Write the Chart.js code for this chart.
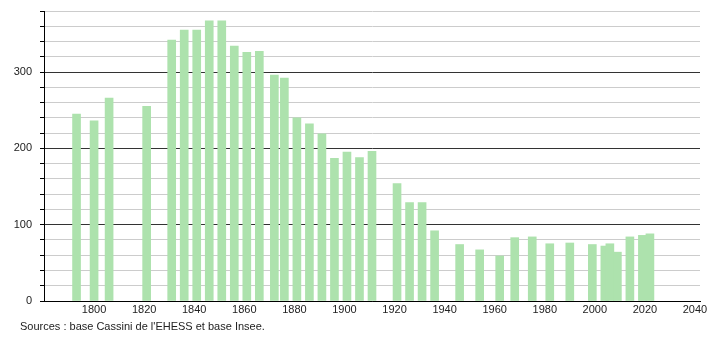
<!DOCTYPE html>
<html>
<head>
<meta charset="utf-8">
<script src="https://cdn.jsdelivr.net/npm/chart.js@4"></script>
<style>
  body { margin: 0; background: #fff; }
  #wrap { position: relative; width: 710px; height: 340px; }
  #source { position: absolute; left: 20px; top: 320px; font: 11px "Liberation Sans", Arial, sans-serif; color: #222; }
</style>
</head>
<body>
<div id="wrap">
  <canvas id="chart" width="710" height="340"></canvas>
  <div id="source">Sources : base Cassini de l'EHESS et base Insee.</div>
</div>
<script>
const years = [1793, 1800, 1806, 1821, 1831, 1836, 1841, 1846, 1851, 1856,
  1861, 1866, 1872, 1876, 1881, 1886, 1891, 1896, 1901, 1906, 1911,
  1921, 1926, 1931, 1936, 1946, 1954, 1962, 1968, 1975, 1982, 1990,
  1999, 2004, 2006, 2009, 2014, 2019, 2022];
const population = [245, 236, 266, 255, 342, 355, 355, 367, 367, 334,
  326, 327, 296, 292, 240, 232, 219, 187, 195, 188, 196,
  154, 129, 129, 92, 74, 67, 59, 83, 84, 75, 76,
  74, 72, 75, 64, 84, 86, 88];
const xTicks = [1800, 1820, 1840, 1860, 1880, 1900, 1920, 1940, 1960, 1980, 2000, 2020, 2040];
const yTicks = [0, 20, 40, 60, 80, 100, 120, 140, 160, 180, 200, 220, 240, 260, 280, 300, 320, 340, 360, 380];
const yLabels = [0, 100, 200, 300];

const font = { family: "'Liberation Sans', Arial, sans-serif", size: 11 };

new Chart(document.getElementById("chart"), {
  type: "bar",
  data: {
    datasets: [{
      data: years.map((y, i) => ({ x: y, y: population[i] })),
      backgroundColor: "#ade2ad",
      barThickness: 8
    }]
  },
  options: {
    responsive: false,
    animation: false,
    layout: { padding: { left: 0, right: 10, top: 11, bottom: 21 } },
    plugins: { legend: { display: false }, tooltip: { enabled: false } },
    scales: {
      x: {
        type: "linear",
        offset: false,
        min: 1780,
        max: 2042,
        afterBuildTicks: (scale) => { scale.ticks = xTicks.map(v => ({ value: v })); },
        afterFit: (scale) => { scale.height = 18; },
        grid: { display: false, drawTicks: false, offset: false },
        border: { display: true, color: "#000", width: 1 },
        ticks: { color: "#222", font, maxRotation: 0, autoSkip: false, padding: 2, callback: (v) => String(v) }
      },
      y: {
        min: 0,
        max: 380,
        afterBuildTicks: (scale) => { scale.ticks = yTicks.map(v => ({ value: v })); },
        afterFit: (scale) => {
          scale.width = 44;
          scale.paddingTop = 0;
          scale.paddingBottom = 0;
        },
        border: { display: true, color: "#000", width: 1 },
        grid: {
          color: (ctx) => ctx.tick && ctx.tick.value % 100 === 0 ? "#333" : "#ccc",
          tickColor: "#000",
          tickLength: 4
        },
        ticks: {
          color: "#222",
          font,
          padding: 8,
          autoSkip: false,
          callback: (v) => yLabels.includes(v) ? String(v) : ""
        }
      }
    }
  }
});
</script>
</body>
</html>
